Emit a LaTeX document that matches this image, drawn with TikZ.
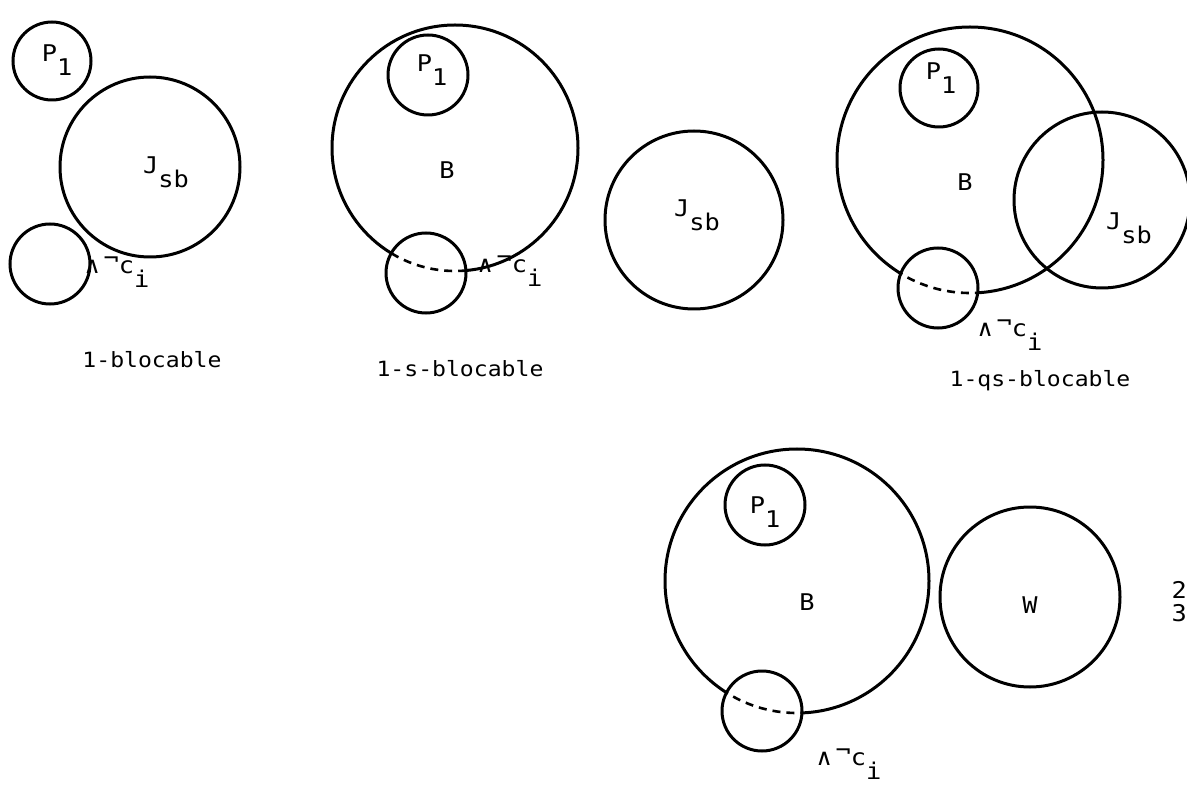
\documentclass[tikz,border=0pt]{standalone}
\usepackage{fontspec}
\newfontfamily\plotfont[FakeStretch=1.1]{DejaVu Sans Mono}
\newcommand{\lowr}[1]{\raisebox{-0.62em}{#1}}
\newcommand{\rais}[1]{\raisebox{0.3em}{#1}}
\begin{document}
\begin{tikzpicture}[x=1pt,y=-1pt,
  ring/.style={circle,draw,line width=3pt,inner sep=0pt},
  lbl/.style={font=\plotfont\fontsize{23}{23}\selectfont,inner sep=0pt},
  captxt/.style={font=\plotfont\fontsize{21}{21}\selectfont,inner sep=0pt},
  dsh/.style={line width=2.6pt,dash pattern=on 8pt off 6pt}]
\useasboundingbox (0,0) rectangle (1187,786);
% ---------- panel 1 ----------
\node[ring,minimum size=78pt] (p1a) at (52,61) {};
\node[ring,minimum size=180pt] (ja) at (150,167) {};
\node[ring,minimum size=80pt] (ca) at (50,264) {};
\node[lbl] (tp1a) at (57,60) {P\lowr{1}};
\node[lbl] (tja) at (166,172) {J\lowr{sb}};
\node[lbl] (tca) at (117,272) {∧\,\rais{¬}c\lowr{i}};
\node[captxt] (na) at (152,360) {1-blocable};
% ---------- panel 2 ----------
\node[ring,minimum size=246pt] (ba) at (455,148) {};
\fill[white] (426,273) circle (40);
\begin{scope}\clip (426,273) circle (40);
\draw[dsh] (455,148) circle (123);
\end{scope}
\node[ring,minimum size=80pt] (p1b) at (428,75) {};
\node[ring,minimum size=80pt] (cb) at (426,273) {};
\node[ring,minimum size=178pt] (jb) at (694,220) {};
\node[lbl] (tp1b) at (432,70) {P\lowr{1}};
\node[lbl] (tbb) at (447,170) {B};
\node[lbl] (tjb) at (697,215) {J\lowr{sb}};
\node[lbl] (tcb) at (510,271) {∧\,\rais{¬}c\lowr{i}};
\node[captxt] (nb) at (460,369) {1-s-blocable};
% ---------- panel 3 ----------
\node[ring,minimum size=266pt] (bc) at (970,160) {};
\fill[white] (938,288) circle (40);
\begin{scope}\clip (938,288) circle (40);
\draw[dsh] (970,160) circle (133);
\end{scope}
\node[ring,minimum size=78pt] (p1c) at (939,88) {};
\node[ring,minimum size=80pt] (cc) at (938,288) {};
\node[ring,minimum size=176pt] (jc) at (1102,200) {};
\node[lbl] (tp1c) at (941,78) {P\lowr{1}};
\node[lbl] (tbc) at (965,182) {B};
\node[lbl] (tjc) at (1129,228) {J\lowr{sb}};
\node[lbl] (tcc) at (1010,335) {∧\,\rais{¬}c\lowr{i}};
\node[captxt] (nc) at (1040,381) {1-qs-blocable};
% ---------- panel 4 ----------
\node[ring,minimum size=264pt] (bd) at (797,581) {};
\fill[white] (762,711) circle (40);
\begin{scope}\clip (762,711) circle (40);
\draw[dsh] (797,581) circle (132);
\end{scope}
\node[ring,minimum size=80pt] (p1d) at (765,505) {};
\node[ring,minimum size=80pt] (cd) at (762,711) {};
\node[ring,minimum size=180pt] (wd) at (1030,597) {};
\node[lbl] (tp1d) at (765,512) {P\lowr{1}};
\node[lbl] (tbd) at (807,602) {B};
\node[lbl] (twd) at (1030,605) {W};
\node[lbl] (tcd) at (849,764) {∧\,\rais{¬}c\lowr{i}};
\node[lbl,anchor=east] (t2) at (1187,590) {2};
\node[lbl,anchor=east] (t3) at (1187,613) {3};
\end{tikzpicture}
\end{document}
